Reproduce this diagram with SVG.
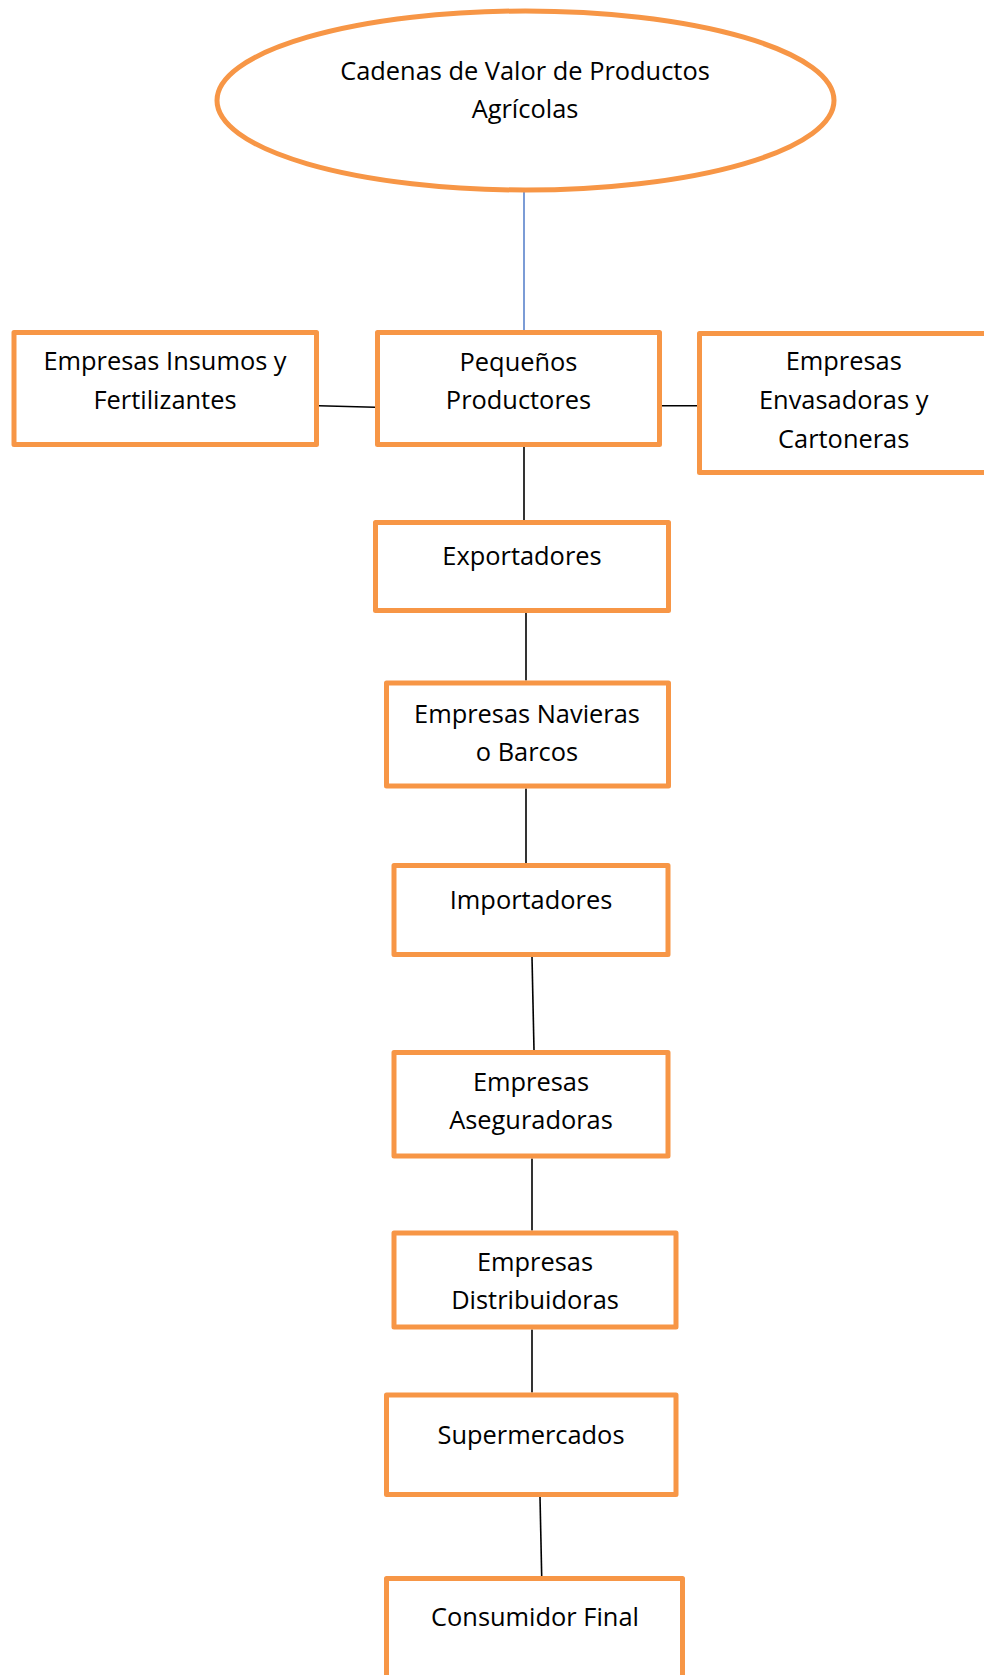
<svg xmlns="http://www.w3.org/2000/svg" width="984" height="1675" viewBox="0 0 984 1675">
<style>
.box{fill:#ffffff;stroke:#F79646;stroke-width:5;stroke-linejoin:round}
.t{font-family:"Open Sans","Liberation Sans",sans-serif;font-size:25.4px;fill:#000000;text-anchor:middle}
.c{stroke:#000000;stroke-width:1.6;fill:none}
.cb{stroke:#4472C4;stroke-width:1.4;fill:none}
</style>
<rect width="984" height="1675" fill="#ffffff"/>
<g id="connectors">
<line class="cb" x1="524" y1="192" x2="524" y2="331"/>
<line class="c" x1="319" y1="405.7" x2="375" y2="407.3"/>
<line class="c" x1="662" y1="405.7" x2="697" y2="405.7"/>
<line class="c" x1="524" y1="447" x2="524" y2="520"/>
<line class="c" x1="526" y1="613" x2="526" y2="680.5"/>
<line class="c" x1="526" y1="788.5" x2="526" y2="863"/>
<line class="c" x1="532" y1="957" x2="534" y2="1050"/>
<line class="c" x1="532" y1="1158.5" x2="532" y2="1230.5"/>
<line class="c" x1="532" y1="1329.5" x2="532" y2="1392.5"/>
<line class="c" x1="540" y1="1497" x2="541.7" y2="1576"/>
</g>
<g id="root">
<ellipse class="box" cx="525.5" cy="100.5" rx="308.5" ry="89.5"/>
<text class="t" x="525" y="79.5">Cadenas de Valor de Productos</text>
<text class="t" x="525" y="118">Agrícolas</text>
</g>
<g id="insumos">
<rect class="box" x="14" y="332.5" width="302.5" height="112"/>
<text class="t" x="165" y="370">Empresas Insumos y</text>
<text class="t" x="165" y="409">Fertilizantes</text>
</g>
<g id="productores">
<rect class="box" x="377.5" y="332.5" width="282" height="112"/>
<text class="t" x="518.5" y="370.5">Pequeños</text>
<text class="t" x="518.5" y="409">Productores</text>
</g>
<g id="envasadoras">
<rect class="box" x="699.5" y="333.5" width="289" height="139"/>
<text class="t" x="843.7" y="370">Empresas</text>
<text class="t" x="843.7" y="409">Envasadoras y</text>
<text class="t" x="843.7" y="448">Cartoneras</text>
</g>
<g id="exportadores">
<rect class="box" x="375.5" y="522.5" width="293" height="88"/>
<text class="t" x="522" y="565">Exportadores</text>
</g>
<g id="navieras">
<rect class="box" x="386.5" y="683" width="282" height="103"/>
<text class="t" x="527" y="723">Empresas Navieras</text>
<text class="t" x="527" y="760.7">o Barcos</text>
</g>
<g id="importadores">
<rect class="box" x="394" y="865.5" width="274" height="89"/>
<text class="t" x="531" y="909.3">Importadores</text>
</g>
<g id="aseguradoras">
<rect class="box" x="394" y="1052.5" width="274" height="103.5"/>
<text class="t" x="531" y="1090.7">Empresas</text>
<text class="t" x="531" y="1129.3">Aseguradoras</text>
</g>
<g id="distribuidoras">
<rect class="box" x="394" y="1233" width="282" height="94"/>
<text class="t" x="535" y="1270.7">Empresas</text>
<text class="t" x="535" y="1309.3">Distribuidoras</text>
</g>
<g id="supermercados">
<rect class="box" x="386.5" y="1395" width="289.5" height="99.5"/>
<text class="t" x="531" y="1444">Supermercados</text>
</g>
<g id="consumidor">
<rect class="box" x="386.5" y="1578.5" width="296" height="120"/>
<text class="t" x="535" y="1626">Consumidor Final</text>
</g>
</svg>
